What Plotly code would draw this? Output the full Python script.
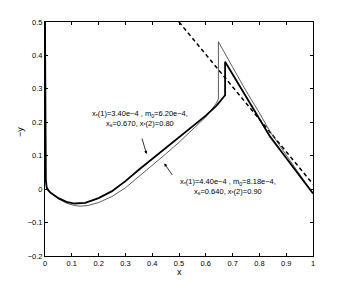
import plotly.graph_objects as go

# case 1: x*(1)=3.40e-4, m0=6.20e-4, xs=0.670 (thick line)
x_thick = [0, 0.0005, 0.0015, 0.003, 0.006, 0.012, 0.02, 0.035, 0.05, 0.08, 0.11, 0.15, 0.2,
           0.25, 0.3, 0.35, 0.4, 0.45, 0.5, 0.55, 0.6, 0.64, 0.665, 0.672, 0.672,
           0.7, 0.75, 0.8, 0.84, 0.9, 0.95, 1.0]
y_thick = [0.5, 0.3, 0.1, 0.03, 0.006, -0.003, -0.010, -0.019, -0.027, -0.038, -0.043, -0.041, -0.027,
           -0.006, 0.024, 0.058, 0.090, 0.122, 0.155, 0.187, 0.220, 0.250, 0.272, 0.281, 0.381,
           0.344, 0.277, 0.210, 0.157, 0.093, 0.040, -0.013]

# case 2: x*(1)=4.40e-4, m0=8.18e-4, xs=0.640 (thin line)
x_thin = [0, 0.0005, 0.0015, 0.003, 0.006, 0.012, 0.02, 0.035, 0.05, 0.08, 0.11, 0.13, 0.16, 0.2,
          0.25, 0.3, 0.35, 0.4, 0.45, 0.5, 0.55, 0.6, 0.62, 0.64, 0.647, 0.647,
          0.7, 0.75, 0.8, 0.84, 0.9, 0.95, 1.0]
y_thin = [0.5, 0.3, 0.1, 0.03, 0.005, -0.004, -0.011, -0.021, -0.029, -0.042, -0.049, -0.051, -0.049, -0.040,
          -0.022, 0.004, 0.037, 0.071, 0.105, 0.140, 0.177, 0.216, 0.236, 0.258, 0.270, 0.441,
          0.365, 0.294, 0.228, 0.172, 0.102, 0.045, -0.013]

# dashed reference line
x_dash = [0.5, 1.0]
y_dash = [0.5, 0.015]

x_ticks = [0, 0.1, 0.2, 0.3, 0.4, 0.5, 0.6, 0.7, 0.8, 0.9, 1]
x_labels = ["0", "0.1", "0.2", "0.3", "0.4", "0.5", "0.6", "0.7", "0.8", "0.9", "1"]
y_ticks = [-0.2, -0.1, 0, 0.1, 0.2, 0.3, 0.4, 0.5]
y_labels = ["\u22120.2", "\u22120.1", "0", "0.1", "0.2", "0.3", "0.4", "0.5"]

font = "Liberation Sans, Arial, sans-serif"

fig = go.Figure()
fig.add_trace(go.Scatter(x=x_dash, y=y_dash, mode="lines",
                         line=dict(color="black", width=1.5, dash="4px,3px")))
fig.add_trace(go.Scatter(x=x_thin, y=y_thin, mode="lines",
                         line=dict(color="#333333", width=0.8)))
fig.add_trace(go.Scatter(x=x_thick, y=y_thick, mode="lines",
                         line=dict(color="black", width=1.8)))

# arrows (tail offsets in pixels from the tip)
fig.add_annotation(x=0.379, y=0.105, ax=-5, ay=-17,
                   showarrow=True, arrowhead=2, arrowsize=0.8, arrowwidth=0.8, arrowcolor="black",
                   text="")
fig.add_annotation(x=0.445, y=0.077, ax=9, ay=13,
                   showarrow=True, arrowhead=2, arrowsize=0.8, arrowwidth=0.8, arrowcolor="black",
                   text="")
fig.add_annotation(x=0.355, y=0.21, showarrow=False, xanchor="center", yanchor="middle",
                   text="x<sub>*</sub>(1)=3.40e\u22124 , m<sub>0</sub>=6.20e\u22124,<br>"
                        "x<sub>s</sub>=0.670, x<sub>*</sub>(2)=0.80",
                   font=dict(size=7.5, color="black", family=font))
fig.add_annotation(x=0.683, y=0.009, showarrow=False, xanchor="center", yanchor="middle",
                   text="x<sub>*</sub>(1)=4.40e\u22124 , m<sub>0</sub>=8.18e\u22124,<br>"
                        "x<sub>s</sub>=0.640, x<sub>*</sub>(2)=0.90",
                   font=dict(size=7.5, color="black", family=font))

# axis titles
fig.add_annotation(x=0.5, y=-0.07, xref="x domain", yref="y domain", showarrow=False,
                   xanchor="center", yanchor="middle", text="x",
                   font=dict(size=9, color="black", family=font))
fig.add_annotation(x=-0.093, y=0.53, xref="x domain", yref="y domain", showarrow=False,
                   xanchor="center", yanchor="middle", text="\u2212y", textangle=-90,
                   font=dict(size=9, color="black", family=font))

axis_style = dict(showline=True, linecolor="black", linewidth=1, mirror="ticks",
                  ticks="inside", ticklen=3, tickcolor="black", tickwidth=0.8,
                  showgrid=False, zeroline=False, automargin=False,
                  tickfont=dict(size=7.5, color="black", family=font))

fig.update_xaxes(range=[0, 1], tickvals=x_ticks, ticktext=x_labels, **axis_style)
fig.update_yaxes(range=[-0.2, 0.5], tickvals=y_ticks, ticktext=y_labels, **axis_style)

# the page body has an 8px margin, so the figure is sized to fit inside the window
fig.update_layout(width=331, height=272, showlegend=False,
                  margin=dict(l=37, r=26, t=14, b=24),
                  plot_bgcolor="white", paper_bgcolor="white",
                  font=dict(family=font, color="black"))

fig.write_html("out.html")
